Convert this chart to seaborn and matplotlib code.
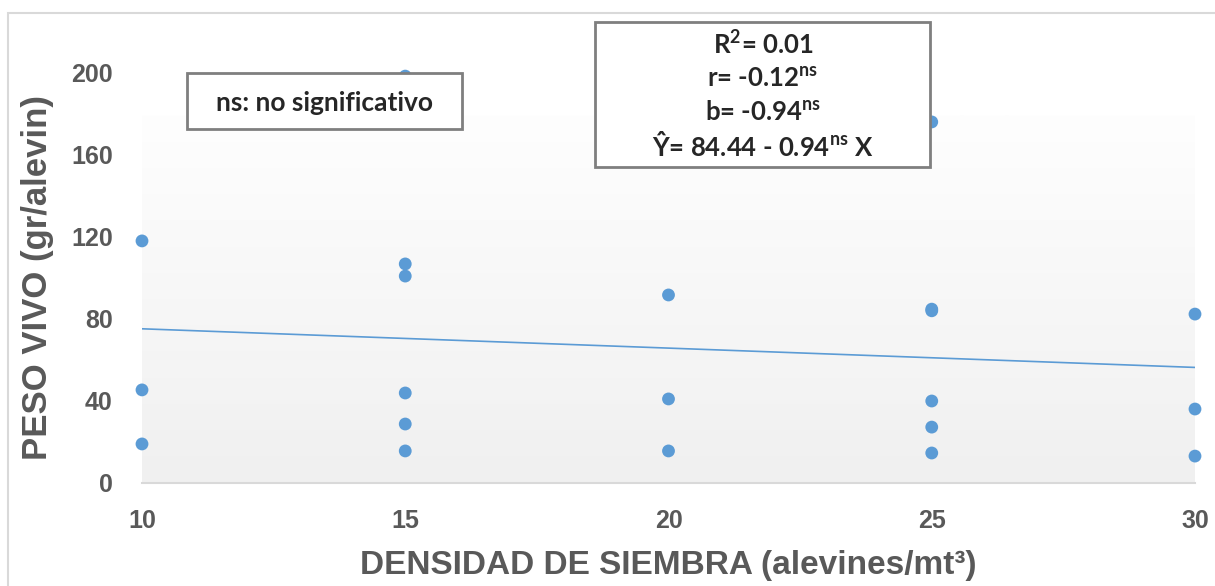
import numpy as np
import pandas as pd
import matplotlib
matplotlib.use("Agg")
import matplotlib.pyplot as plt
import seaborn as sns
from matplotlib.patches import Rectangle

# datos
densidad = [10, 10, 10,
            15, 15, 15, 15, 15, 15,
            20, 20, 20,
            25, 25, 25, 25, 25, 25,
            30, 30, 30]
peso = [117.8, 45.3, 19.0,
        198.0, 106.6, 100.7, 43.8, 28.7, 15.6,
        91.5, 40.9, 15.6,
        175.7, 84.6, 83.8, 39.9, 27.2, 14.6,
        82.2, 36.0, 13.1]
intercepto = 84.44
pendiente = -0.94
x_ticks = [10, 15, 20, 25, 30]
y_ticks = [0, 40, 80, 120, 160, 200]

df = pd.DataFrame({"densidad": densidad, "peso": peso})
x_lin = np.array([min(x_ticks), max(x_ticks)])
df_lin = pd.DataFrame({"x": x_lin, "y": intercepto + pendiente * x_lin})

sns.set_style("white")
plt.rcParams["font.family"] = ["Liberation Sans", "DejaVu Sans"]
plt.rcParams["mathtext.fontset"] = "custom"
plt.rcParams["mathtext.rm"] = "Lato"
plt.rcParams["mathtext.bf"] = "Lato:bold"

W, H = 1215, 586
fig = plt.figure(figsize=(W / 100, H / 100), dpi=100)
ax = fig.add_axes([142 / W, 1 - 483 / H, (1195 - 142) / W, (483 - 72) / H])

gris = "#595959"
azul = "#5b9bd5"

# fondo degradado del area de trazado
top = np.array([0xfe, 0xfe, 0xfe]) / 255
bot = np.array([0xf0, 0xf0, 0xf0]) / 255
t = np.linspace(0, 1, 200)[:, None, None]
grad = top * (1 - t) + bot * t
ax.imshow(grad, extent=[10, 30, 0, 179], aspect="auto", zorder=0)

sns.lineplot(data=df_lin, x="x", y="y", color=azul, lw=1.2, ax=ax, zorder=2)
sns.scatterplot(data=df, x="densidad", y="peso", color=azul, s=85,
                edgecolor="none", ax=ax, zorder=3, clip_on=False)

ax.set_xlim(10, 30)
ax.set_ylim(0, 200)
ax.set_xticks(x_ticks)
ax.set_yticks(y_ticks)
ax.set_xticklabels([str(v) for v in x_ticks], fontsize=18, fontweight="bold", color=gris)
ax.set_yticklabels([str(v) for v in y_ticks], fontsize=18, fontweight="bold", color=gris)
ax.tick_params(axis="x", length=6, width=1, color="#d9d9d9", pad=13, direction="out")
ax.tick_params(axis="y", length=0, pad=21)
for s in ["top", "right", "left"]:
    ax.spines[s].set_visible(False)
ax.spines["bottom"].set_color("#d9d9d9")
ax.spines["bottom"].set_linewidth(1.5)
ax.set_facecolor("none")

ax.set_xlabel("DENSIDAD DE SIEMBRA (alevines/mt³)", fontsize=24, fontweight="bold",
              color=gris, labelpad=12)
ax.set_ylabel("PESO VIVO (gr/alevin)", fontsize=25, fontweight="bold",
              color=gris, labelpad=12)

# cuadros de texto
fig.patches.append(Rectangle((187 / W, 1 - 129 / H), (462 - 187) / W, (129 - 73) / H,
                             transform=fig.transFigure, facecolor="white",
                             edgecolor="#7f7f7f", lw=2, zorder=5))
fig.text(324 / W, 1 - 103 / H, "ns: no significativo", family="Lato", fontweight="bold",
         fontsize=19, ha="center", va="center", zorder=6)

fig.patches.append(Rectangle((595 / W, 1 - 167 / H), (930 - 595) / W, (167 - 22) / H,
                             transform=fig.transFigure, facecolor="white",
                             edgecolor="#7f7f7f", lw=2, zorder=5))
lineas = [r"R$^{\mathbf{2}}$= 0.01",
          r"r= -0.12$^{\mathbf{ns}}$",
          r"b= -0.94$^{\mathbf{ns}}$",
          r"Ŷ= 84.44 - 0.94$^{\mathbf{ns}}$ X"]
for i, txt in enumerate(lineas):
    fig.text(763 / W, 1 - (44 + 34 * i) / H, txt, family="Lato", fontweight="bold",
             fontsize=18.5, ha="center", va="center", zorder=6)

# borde del grafico
fig.patches.append(Rectangle((8 / W, -0.05), 1.1, 1.05 - 13 / H, transform=fig.transFigure,
                             facecolor="none", edgecolor="#d9d9d9", lw=1.5, zorder=0))

fig.savefig("out.png", dpi=100)
